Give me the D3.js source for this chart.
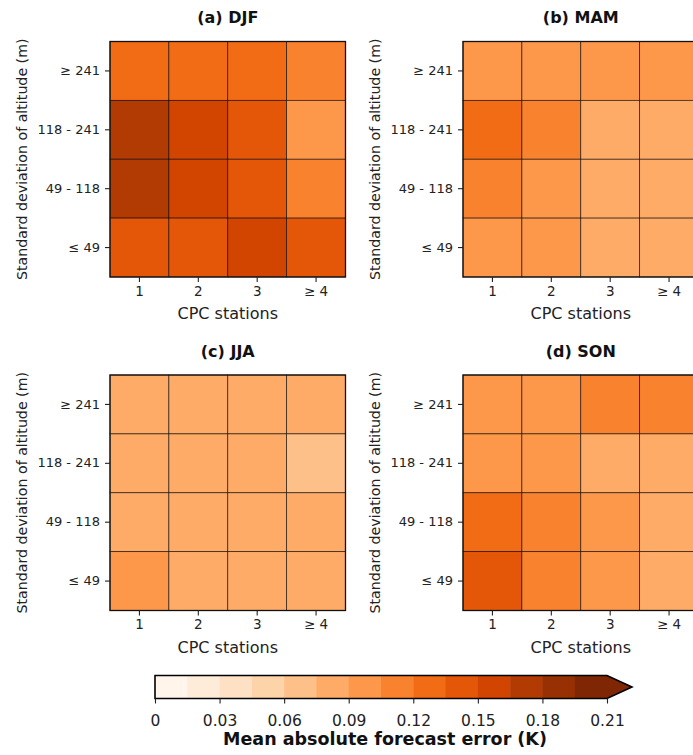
<!DOCTYPE html>
<html>
<head>
<meta charset="utf-8">
<script src="https://cdn.jsdelivr.net/npm/d3@7"></script>
<style>
  body { margin: 0; background: #fff; }
  svg { font-family: "DejaVu Sans", sans-serif; display: block; }
</style>
</head>
<body>
<svg id="chart" width="693" height="755"></svg>
<script>
// data, rows top to bottom (>=241 ... <=49), cols 1,2,3,>=4
const panelTitles = ['(a) DJF', '(b) MAM', '(c) JJA', '(d) SON'];
const stationLabels = ['1', '2', '3', '\u2265 4'];
const altitudeLabels = ['\u2265 241', '118 - 241', '49 - 118', '\u2264 49'];

const djf = [
  [0.128, 0.127, 0.129, 0.112],
  [0.172, 0.158, 0.141, 0.097],
  [0.174, 0.159, 0.142, 0.113],
  [0.143, 0.141, 0.156, 0.140],
];
const mam = [
  [0.097, 0.096, 0.099, 0.100],
  [0.127, 0.111, 0.084, 0.086],
  [0.113, 0.098, 0.085, 0.087],
  [0.096, 0.097, 0.084, 0.086],
];
const jja = [
  [0.083, 0.082, 0.084, 0.086],
  [0.083, 0.084, 0.086, 0.072],
  [0.082, 0.083, 0.085, 0.086],
  [0.094, 0.083, 0.084, 0.085],
];
const son = [
  [0.096, 0.097, 0.114, 0.116],
  [0.098, 0.099, 0.085, 0.087],
  [0.125, 0.110, 0.099, 0.086],
  [0.142, 0.111, 0.098, 0.087],
];
const seasonValues = [djf, mam, jja, son];

const levels = d3.range(15).map(i => +(i * 0.015).toFixed(3)); // 0 .. 0.21
const cbarTicks = [0, 0.03, 0.06, 0.09, 0.12, 0.15, 0.18, 0.21];
const cbarTickLabels = ['0', '0.03', '0.06', '0.09', '0.12', '0.15', '0.18', '0.21'];

// matplotlib "Oranges" (linear between the 9 brewer stops)
const brewerOranges = ['#fff5eb', '#fee6ce', '#fdd0a2', '#fdae6b', '#fd8d3c', '#f16913', '#d94801', '#a63603', '#7f2704'];
const oranges = d3.scaleLinear()
  .domain(d3.range(9).map(i => i / 8))
  .range(brewerOranges)
  .interpolate(d3.interpolateRgb);

const binColors = d3.range(14).map(i => oranges(i / 13));
const color = d3.scaleThreshold()
  .domain(levels.slice(1))
  .range([...binColors, oranges(1)]);

const svg = d3.select('#chart');
const size = 235.5;
const panels = [
  { x: 110, y: 41.5 },
  { x: 463, y: 41.5 },
  { x: 110, y: 375 },
  { x: 463, y: 375 },
];

function styleAxis(a, fs) {
  a.select('.domain').remove();
  a.selectAll('.tick line').attr('stroke', '#222').attr('stroke-width', 1.1);
  a.selectAll('.tick text')
    .style('font-size', fs + 'px')
    .style('font-family', '"DejaVu Sans", sans-serif')
    .attr('fill', '#222');
}

panels.forEach((p, k) => {
  const g = svg.append('g').attr('transform', `translate(${p.x},${p.y})`);
  const x = d3.scaleBand().domain(stationLabels).range([0, size]);
  const y = d3.scaleBand().domain(altitudeLabels).range([0, size]);

  const rows = seasonValues[k];
  const cells = [];
  rows.forEach((row, r) => row.forEach((v, c) => cells.push({ r, c, v })));

  g.selectAll('rect.cell')
    .data(cells)
    .enter().append('rect')
    .attr('class', 'cell')
    .attr('x', d => x(stationLabels[d.c]))
    .attr('y', d => y(altitudeLabels[d.r]))
    .attr('width', x.bandwidth())
    .attr('height', y.bandwidth())
    .attr('fill', d => color(d.v))
    .attr('stroke', '#000')
    .attr('stroke-opacity', 0.7)
    .attr('stroke-width', 0.8);

  g.append('rect')
    .attr('width', size).attr('height', size)
    .attr('fill', 'none').attr('stroke', '#111').attr('stroke-width', 1.3);

  const xAxis = g.append('g')
    .attr('transform', `translate(0,${size})`)
    .call(d3.axisBottom(x).tickSize(5).tickPadding(4));
  const yAxis = g.append('g')
    .call(d3.axisLeft(y).tickSize(5).tickPadding(5));
  styleAxis(xAxis, 13.5);
  styleAxis(yAxis, 13);

  g.append('text')
    .attr('x', size / 2).attr('y', -18.5)
    .attr('text-anchor', 'middle')
    .style('font-size', '16px').style('font-weight', 'bold')
    .attr('fill', '#111')
    .text(panelTitles[k]);

  g.append('text')
    .attr('x', size / 2).attr('y', size + 42)
    .attr('text-anchor', 'middle')
    .style('font-size', '16px').attr('fill', '#222')
    .text('CPC stations');

  g.append('text')
    .attr('transform', `translate(-83,${size / 2}) rotate(-90)`)
    .attr('text-anchor', 'middle')
    .style('font-size', '14.2px').attr('fill', '#222')
    .text('Standard deviation of altitude (m)');
});

// colorbar
const cb = { x0: 155, x1: 607, y: 675.5, h: 23, tip: 25 };
const cx = d3.scaleLinear().domain([0, 0.21]).range([cb.x0, cb.x1]);
const cbar = svg.append('g');

cbar.selectAll('rect')
  .data(d3.range(14))
  .enter().append('rect')
  .attr('x', i => cx(levels[i]))
  .attr('y', cb.y)
  .attr('width', i => cx(levels[i + 1]) - cx(levels[i]) + 0.5)
  .attr('height', cb.h)
  .attr('fill', i => binColors[i]);

cbar.append('path')
  .attr('d', `M${cb.x1},${cb.y} L${cb.x1 + cb.tip},${cb.y + cb.h / 2} L${cb.x1},${cb.y + cb.h} Z`)
  .attr('fill', oranges(1));

cbar.append('path')
  .attr('d', `M${cb.x0},${cb.y} L${cb.x1},${cb.y} L${cb.x1 + cb.tip},${cb.y + cb.h / 2} L${cb.x1},${cb.y + cb.h} L${cb.x0},${cb.y + cb.h} Z`)
  .attr('fill', 'none').attr('stroke', '#000').attr('stroke-width', 1.6);

const cAxis = cbar.append('g')
  .attr('transform', `translate(0,${cb.y + cb.h})`)
  .call(d3.axisBottom(cx).tickValues(cbarTicks).tickFormat((d, i) => cbarTickLabels[i]).tickSize(5).tickPadding(11));
styleAxis(cAxis, 15.5);

cbar.append('text')
  .attr('x', (cb.x0 + cb.x1) / 2 + 4).attr('y', 745)
  .attr('text-anchor', 'middle')
  .style('font-size', '17.5px').style('font-weight', 'bold').attr('fill', '#111')
  .text('Mean absolute forecast error (K)');
</script>
</body>
</html>
